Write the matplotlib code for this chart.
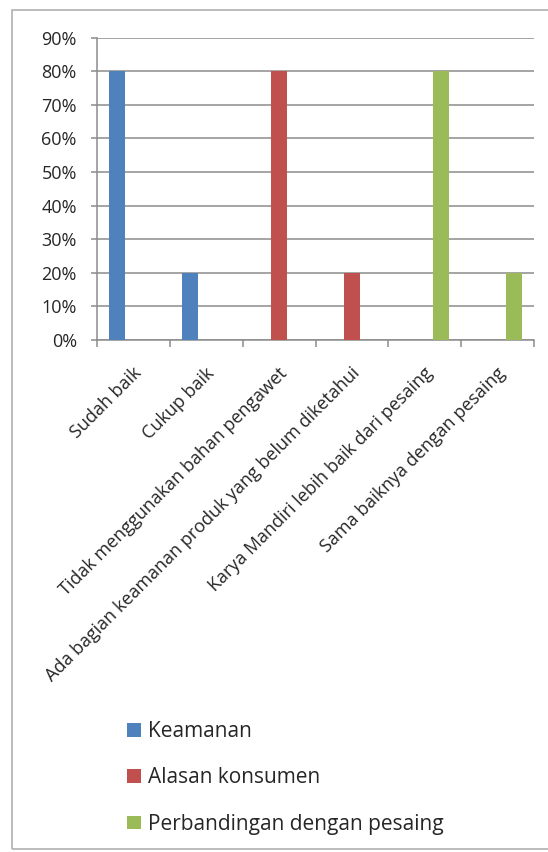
import numpy as np
import matplotlib
matplotlib.use("Agg")
import matplotlib.pyplot as plt
from matplotlib.patches import Rectangle
from matplotlib.transforms import ScaledTranslation
from matplotlib.ticker import FixedLocator, PercentFormatter

plt.rcParams['font.family'] = ['Open Sans', 'DejaVu Sans']

categories = ["Sudah baik", "Cukup baik", "Tidak menggunakan bahan pengawet",
              "Ada bagian keamanan produk yang belum diketahui",
              "Karya Mandiri lebih baik dari pesaing", "Sama baiknya dengan pesaing"]
series_names = ["Keamanan", "Alasan konsumen", "Perbandingan dengan pesaing"]
keamanan = [0.8, 0.2, 0, 0, 0, 0]
alasan = [0, 0, 0.8, 0.2, 0, 0]
perbandingan = [0, 0, 0, 0, 0.8, 0.2]
colors = ["#4F81BD", "#C0504D", "#9BBB59"]

fig = plt.figure(figsize=(5.48, 8.52), dpi=100)
ax = fig.add_axes([97/548, 1-340/852, (534-97)/548, (340-37.7)/852])

x = np.arange(len(categories))
w = 1/4.5
for k, vals in enumerate([keamanan, alasan, perbandingan]):
    ax.bar(x + (k-1)*w, vals, width=w, color=colors[k], label=series_names[k], zorder=3)

grid_c = "#8c8c8c"
txt_c = "#262626"
ax.set_xlim(-0.5, len(categories)-0.5)
ax.set_ylim(0, 0.9)
ax.set_yticks(np.arange(0, 0.91, 0.1))
ax.yaxis.set_major_formatter(PercentFormatter(1.0, decimals=0))
ax.grid(axis='y', color=grid_c, lw=1.1, zorder=0)
for s in ['top', 'right']:
    ax.spines[s].set_visible(False)
for s in ['left', 'bottom']:
    ax.spines[s].set_color(grid_c)
    ax.spines[s].set_linewidth(1.1)
ax.tick_params(axis='y', length=4.5, color=grid_c, width=1.1, pad=10, labelsize=13, labelcolor=txt_c)

ax.set_xticks(x)
ax.set_xticklabels(categories)
ax.xaxis.set_minor_locator(FixedLocator(np.arange(-0.5, len(categories), 1)))
ax.tick_params(axis='x', which='major', length=0, pad=22, labelsize=13, labelcolor=txt_c)
ax.tick_params(axis='x', which='minor', length=5, color=grid_c, width=1.1)
off = ScaledTranslation(0.05, 0, fig.dpi_scale_trans)
for lab in ax.get_xticklabels():
    lab.set_rotation(45)
    lab.set_rotation_mode('anchor')
    lab.set_ha('right')
    lab.set_va('center')
    lab.set_transform(lab.get_transform() + off)

fig.legend(loc='upper left', bbox_to_anchor=(127/548, 1-721/852), frameon=False,
           fontsize=15, handlelength=0.65, handleheight=0.65, handletextpad=0.35,
           labelspacing=1.22, borderpad=0, borderaxespad=0, labelcolor=txt_c)

fig.patches.append(Rectangle((12/548, 3/852), 1.0, 1-13/852, transform=fig.transFigure,
                             fill=False, edgecolor='#b0b0b0', lw=1.2))

fig.savefig("out.png", dpi=100)
